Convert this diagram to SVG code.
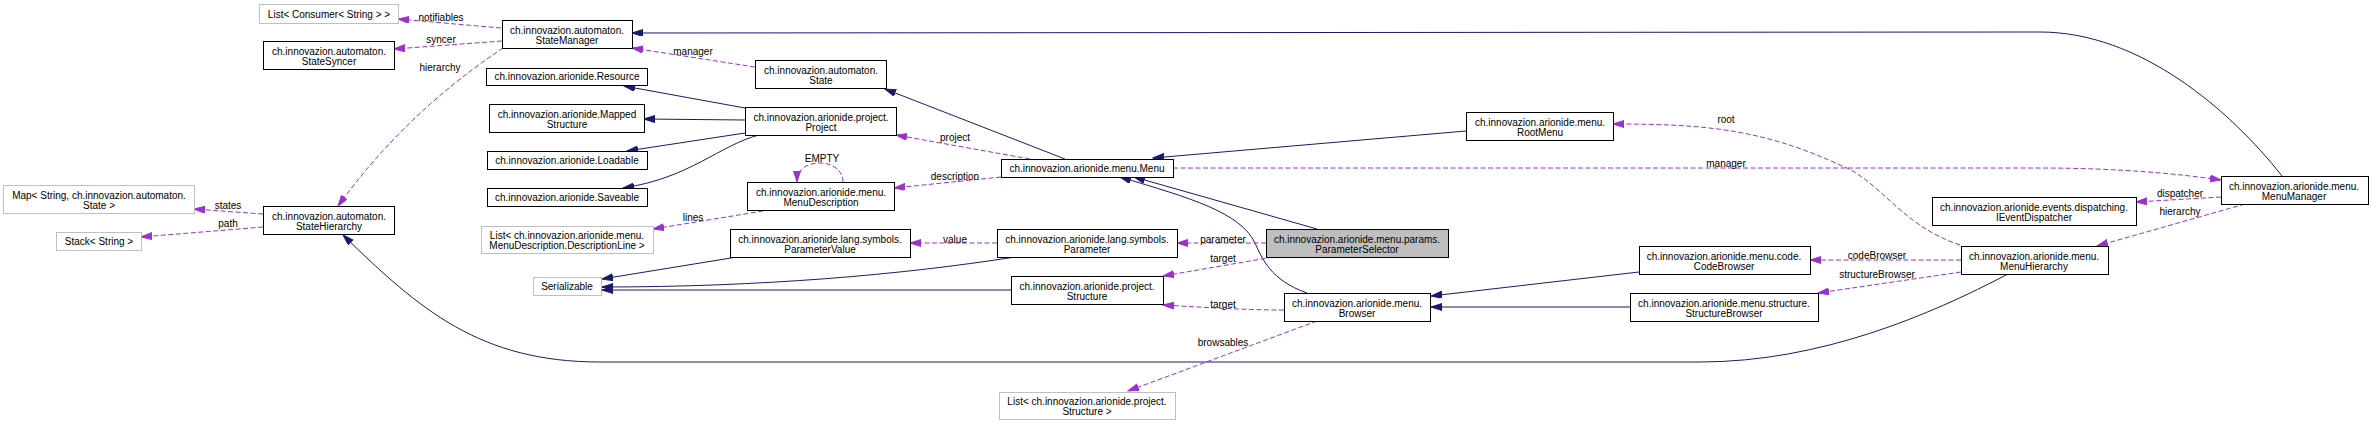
<svg xmlns="http://www.w3.org/2000/svg" width="2372" height="424" viewBox="0 0 2372 424">
<style>
text{font-family:"Liberation Sans",Arial,Helvetica,sans-serif;font-size:10px;fill:#000;text-anchor:middle}
.n{fill:#fff;stroke:#000;stroke-width:1}
.g{fill:#fff;stroke:#bfbfbf;stroke-width:1}
.f{fill:#bfbfbf;stroke:#000;stroke-width:1}
.i{fill:none;stroke:#191970;stroke-width:1;marker-end:url(#ai)}
.u{fill:none;stroke:#9a32cd;stroke-width:1;stroke-dasharray:5,2.5;marker-end:url(#au)}
</style>
<defs>
<marker id="ai" markerUnits="userSpaceOnUse" markerWidth="12" markerHeight="8" refX="11" refY="3.5" orient="auto"><path d="M0,0 L11,3.5 L0,7 z" fill="#191970" stroke="#191970"/></marker>
<marker id="au" markerUnits="userSpaceOnUse" markerWidth="12" markerHeight="8" refX="11" refY="3.5" orient="auto"><path d="M0,0 L11,3.5 L0,7 z" fill="#9a32cd" stroke="#9a32cd"/></marker>
</defs>
<rect width="2372" height="424" fill="#fff"/>
<g id="connectors">
<path class="i" d="M2282,176 C2230,110 2140,32 2040,32 L632,33"/>
<path class="i" d="M1065,159 L885,89"/>
<path class="i" d="M745,108 L624,86"/>
<path class="i" d="M745,120 L644,119"/>
<path class="i" d="M745,133 L627,151"/>
<path class="i" d="M759,135 C720,145 690,178 623,188"/>
<path class="i" d="M737,257 L602,279"/>
<path class="i" d="M1015,257 C900,275 760,287 602,287"/>
<path class="i" d="M1011,290 L602,290"/>
<path class="i" d="M1466,131 L1153,158"/>
<path class="i" d="M1317,229 L1134,177"/>
<path class="i" d="M1307,293 C1270,280 1262,258 1255,243 C1240,212 1190,198 1120,177"/>
<path class="i" d="M1639,272 L1431,296"/>
<path class="i" d="M1630,307 L1431,307"/>
<path class="i" d="M2008,274 C1930,315 1820,362 1700,362 L600,362 C480,362 420,310 343,235"/>
<path class="u" d="M501,28 L398,19"/>
<path class="u" d="M502,41 L394,49"/>
<path class="u" d="M503,48 C470,70 400,120 338,206"/>
<path class="u" d="M263,214 L194,209"/>
<path class="u" d="M263,227 L141,237"/>
<path class="u" d="M755,67 L632,48"/>
<path class="u" d="M763,211 L653,229"/>
<path class="u" d="M843,182 C843,170 832,163 820,163 C806,163 797,170 797,182"/>
<path class="u" d="M1030,159 L896,135"/>
<path class="u" d="M1001,177 L894,188"/>
<path class="u" d="M997,243 L910,243"/>
<path class="u" d="M1266,243 L1177,243"/>
<path class="u" d="M1273,257 L1163,276"/>
<path class="u" d="M1284,310 C1240,310 1200,307 1163,305"/>
<path class="u" d="M1317,321 L1128,391"/>
<path class="u" d="M1173,168 L2040,168 C2120,168 2180,174 2221,180"/>
<path class="u" d="M1960,245 C1900,225 1880,180 1840,165 C1760,128 1700,124 1613,124"/>
<path class="u" d="M1961,260 L1810,260"/>
<path class="u" d="M1961,272 L1818,293"/>
<path class="u" d="M2221,197 L2136,202"/>
<path class="u" d="M2245,204 L2097,246"/>
<text x="441" y="20.5">notifiables</text>
<text x="441" y="42.5">syncer</text>
<text x="440" y="70.5">hierarchy</text>
<text x="228" y="208.5">states</text>
<text x="228" y="226.5">path</text>
<text x="693" y="54.5">manager</text>
<text x="693" y="220.5">lines</text>
<text x="822" y="161.5">EMPTY</text>
<text x="955" y="140.5">project</text>
<text x="955" y="179.5">description</text>
<text x="955" y="242.5">value</text>
<text x="1223" y="242.5">parameter</text>
<text x="1223" y="261.5">target</text>
<text x="1223" y="307.5">target</text>
<text x="1223" y="345.5">browsables</text>
<text x="1726" y="122.5">root</text>
<text x="1726" y="166.5">manager</text>
<text x="1877" y="258.5">codeBrowser</text>
<text x="1877" y="277.5">structureBrowser</text>
<text x="2180" y="196.5">dispatcher</text>
<text x="2180" y="214.5">hierarchy</text>
</g>
<g id="ListConsumer"><rect class="g" x="259.5" y="4.5" width="139" height="19"/><text x="329" y="17.5">List&lt; Consumer&lt; String &gt; &gt;</text></g>
<g id="StateSyncer"><rect class="n" x="263.5" y="41.5" width="131" height="28"/><text x="329" y="54.5">ch.innovazion.automaton.</text><text x="329" y="64.5">StateSyncer</text></g>
<g id="MapStates"><rect class="g" x="3.5" y="185.5" width="191" height="28"/><text x="99" y="198.5">Map&lt; String, ch.innovazion.automaton.</text><text x="99" y="208.5">State &gt;</text></g>
<g id="Stack"><rect class="g" x="56.5" y="232.5" width="85" height="18"/><text x="99" y="245">Stack&lt; String &gt;</text></g>
<g id="StateHierarchy"><rect class="n" x="263.5" y="206.5" width="131" height="28"/><text x="329" y="219.5">ch.innovazion.automaton.</text><text x="329" y="229.5">StateHierarchy</text></g>
<g id="StateManager"><rect class="n" x="502.5" y="20.5" width="130" height="28"/><text x="567" y="33.5">ch.innovazion.automaton.</text><text x="567" y="43.5">StateManager</text></g>
<g id="Resource"><rect class="n" x="486.5" y="68.5" width="161" height="17"/><text x="567" y="80">ch.innovazion.arionide.Resource</text></g>
<g id="MappedStructure"><rect class="n" x="489.5" y="104.5" width="155" height="28"/><text x="567" y="117.5">ch.innovazion.arionide.Mapped</text><text x="567" y="127.5">Structure</text></g>
<g id="Loadable"><rect class="n" x="487.5" y="151.5" width="160" height="18"/><text x="567" y="164">ch.innovazion.arionide.Loadable</text></g>
<g id="Saveable"><rect class="n" x="487.5" y="188.5" width="160" height="18"/><text x="567" y="201">ch.innovazion.arionide.Saveable</text></g>
<g id="ListDescriptionLine"><rect class="g" x="481.5" y="226.5" width="172" height="27"/><text x="567" y="238.5">List&lt; ch.innovazion.arionide.menu.</text><text x="567" y="248.5">MenuDescription.DescriptionLine &gt;</text></g>
<g id="Serializable"><rect class="g" x="533.5" y="277.5" width="68" height="18"/><text x="567" y="290">Serializable</text></g>
<g id="State"><rect class="n" x="755.5" y="60.5" width="131" height="28"/><text x="821" y="73.5">ch.innovazion.automaton.</text><text x="821" y="83.5">State</text></g>
<g id="Project"><rect class="n" x="745.5" y="107.5" width="151" height="28"/><text x="821" y="120.5">ch.innovazion.arionide.project.</text><text x="821" y="130.5">Project</text></g>
<g id="MenuDescription"><rect class="n" x="747.5" y="182.5" width="147" height="28"/><text x="821" y="195.5">ch.innovazion.arionide.menu.</text><text x="821" y="205.5">MenuDescription</text></g>
<g id="ParameterValue"><rect class="n" x="730.5" y="229.5" width="180" height="28"/><text x="820" y="242.5">ch.innovazion.arionide.lang.symbols.</text><text x="820" y="252.5">ParameterValue</text></g>
<g id="Menu"><rect class="n" x="1001.5" y="159.5" width="172" height="18"/><text x="1087" y="172">ch.innovazion.arionide.menu.Menu</text></g>
<g id="Parameter"><rect class="n" x="997.5" y="229.5" width="180" height="28"/><text x="1087" y="242.5">ch.innovazion.arionide.lang.symbols.</text><text x="1087" y="252.5">Parameter</text></g>
<g id="Structure"><rect class="n" x="1011.5" y="276.5" width="152" height="28"/><text x="1087" y="289.5">ch.innovazion.arionide.project.</text><text x="1087" y="299.5">Structure</text></g>
<g id="ListStructure"><rect class="g" x="999.5" y="392.5" width="176" height="27"/><text x="1087" y="404.5">List&lt; ch.innovazion.arionide.project.</text><text x="1087" y="414.5">Structure &gt;</text></g>
<g id="RootMenu"><rect class="n" x="1466.5" y="112.5" width="147" height="28"/><text x="1540" y="125.5">ch.innovazion.arionide.menu.</text><text x="1540" y="135.5">RootMenu</text></g>
<g id="ParameterSelector"><rect class="f" x="1266.5" y="229.5" width="182" height="28"/><text x="1357" y="242.5">ch.innovazion.arionide.menu.params.</text><text x="1357" y="252.5">ParameterSelector</text></g>
<g id="Browser"><rect class="n" x="1284.5" y="293.5" width="146" height="28"/><text x="1357" y="306.5">ch.innovazion.arionide.menu.</text><text x="1357" y="316.5">Browser</text></g>
<g id="CodeBrowser"><rect class="n" x="1639.5" y="246.5" width="171" height="28"/><text x="1724" y="259.5">ch.innovazion.arionide.menu.code.</text><text x="1724" y="269.5">CodeBrowser</text></g>
<g id="StructureBrowser"><rect class="n" x="1630.5" y="293.5" width="188" height="28"/><text x="1724" y="306.5">ch.innovazion.arionide.menu.structure.</text><text x="1724" y="316.5">StructureBrowser</text></g>
<g id="IEventDispatcher"><rect class="n" x="1932.5" y="197.5" width="204" height="28"/><text x="2034" y="210.5">ch.innovazion.arionide.events.dispatching.</text><text x="2034" y="220.5">IEventDispatcher</text></g>
<g id="MenuManager"><rect class="n" x="2221.5" y="176.5" width="147" height="28"/><text x="2294" y="189.5">ch.innovazion.arionide.menu.</text><text x="2294" y="199.5">MenuManager</text></g>
<g id="MenuHierarchy"><rect class="n" x="1961.5" y="246.5" width="147" height="28"/><text x="2034" y="259.5">ch.innovazion.arionide.menu.</text><text x="2034" y="269.5">MenuHierarchy</text></g>
</svg>
